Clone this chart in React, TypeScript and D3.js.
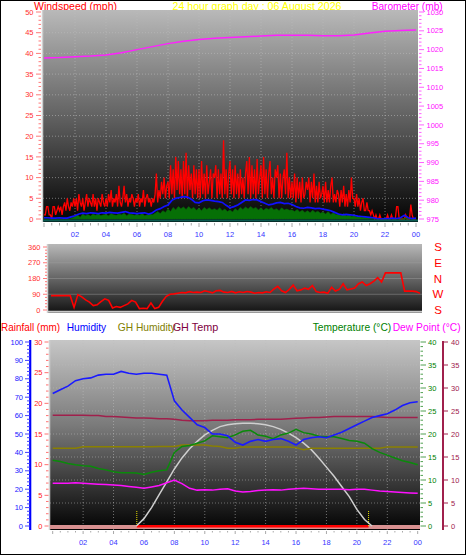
import React from "react";
import * as d3 from "d3";

// ---------- DATA ----------
const hourLabels = ["02", "04", "06", "08", "10", "12", "14", "16", "18", "20", "22", "00"];
const labelHours = [2, 4, 6, 8, 10, 12, 14, 16, 18, 20, 22, 24];

// wind gust (mph), 5-minute samples 00:00..24:00
const gust = [
  1, 1, 3, 3, 1, 1, 0, 3, 3, 1, 2, 3,
  2, 3, 1, 3, 4, 2, 5, 3, 2, 4, 3, 5,
  3, 5, 2, 6, 4, 3, 5, 2, 4, 6, 3, 5,
  4, 3, 6, 3, 5, 2, 5, 4, 3, 6, 4, 3,
  5, 3, 6, 4, 7, 3, 5, 4, 6, 3, 8, 4,
  3, 5, 8, 4, 6, 3, 5, 4, 6, 5, 3, 5,
  4, 6, 3, 5, 4, 7, 3, 5, 6, 4, 5, 3,
  5, 4, 6, 11, 4, 7, 5, 9, 6, 10, 5, 8,
  9, 5, 13, 6, 12, 5, 15, 7, 14, 6, 12, 5,
  14, 6, 16, 5, 13, 7, 11, 5, 13, 6, 12, 5,
  12, 5, 14, 6, 11, 5, 13, 6, 9, 12, 5, 11,
  10, 13, 5, 12, 6, 11, 5, 19, 6, 12, 5, 11,
  14, 6, 12, 5, 13, 6, 11, 5, 12, 6, 10, 5,
  11, 14, 6, 15, 5, 13, 6, 12, 5, 14.5, 6, 10,
  13, 5, 15, 6, 12, 5, 11, 14, 6, 10, 5, 12,
  10, 13, 5, 11, 5, 10, 12, 6, 16, 5, 10, 5,
  9, 5, 11, 4, 10, 5, 9, 4, 10, 5, 6, 9,
  7, 10, 4, 9, 5, 11, 4, 8, 4, 9, 5, 6,
  8, 4, 9, 4, 7, 4, 8, 10, 4, 6, 4, 7,
  6, 3, 7, 4, 8, 3, 6, 3, 7, 4, 10, 5,
  5, 3, 6, 3, 5, 2, 4, 5, 2, 2, 4, 2,
  2, 1, 2, 1, 0, 1, 0, 0, 1, 0, 0, 0,
  0, 0, 1, 0, 0, 1, 0, 0, 0, 3, 3, 0,
  0, 0, 0, 0, 1, 0, 0, 0, 3.5, 1, 0, 0,
  0,
];

// average wind (mph), 15-minute samples
const avgWind = [
  0.3, 0.3, 0.2, 0.2,
  0.3, 0.2, 0.2, 0.5,
  0.8, 1.2, 1.4, 1.3,
  1.5, 1.4, 1.3, 1.5,
  1.4, 1.6, 1.5, 1.4,
  1.6, 1.8, 1.5, 1.4,
  1.3, 1.4, 1.5, 1.2,
  1.5, 2.2, 2.5, 3.0,
  3.4, 4.5, 5.0, 5.2,
  5.4, 5.3, 4.8, 4.0,
  3.9, 4.4, 4.6, 4.5,
  4.3, 4.2, 4.0, 3.3,
  2.7, 3.0, 3.4, 4.0,
  4.6, 4.5, 4.7, 4.6,
  4.2, 3.8, 3.4, 3.6,
  3.9, 4.0, 3.7, 3.8,
  3.5, 3.0, 2.7, 2.6,
  2.8, 2.7, 2.5, 2.6,
  2.4, 2.2, 2.0, 1.6,
  1.2, 1.0, 1.1, 1.0,
  0.9, 0.7, 0.6, 0.5,
  0.4, 0.3, 0.1, 0.0,
  0.1, 0.1, 0.2, 0.1,
  0.3, 0.9, 0.3, 0.1,
  0.2,
];

// wind lull (mph), 10-minute samples
const lull = [
  0, 0, 0, 0, 0, 0,
  0, 0, 0, 0, 0, 0.3,
  0.6, 1.0, 0.4, 1.2, 0.8, 1.1,
  0.7, 1.2, 0.9, 1.3, 0.8, 1.0,
  1.1, 0.8, 1.3, 1.0, 0.9, 1.2,
  1.0, 1.4, 0.8, 1.2, 1.1, 0.9,
  1.1, 0.9, 1.3, 0.8, 1.0, 1.2,
  1.0, 1.4, 1.8, 1.3, 2.0, 1.6,
  2.4, 1.8, 2.8, 2.2, 3.0, 2.5,
  2.9, 2.3, 3.0, 2.4, 2.8, 2.1,
  2.6, 2.0, 2.8, 2.3, 2.7, 2.2,
  2.5, 2.1, 2.7, 2.0, 2.4, 1.8,
  2.2, 1.7, 2.5, 2.0, 2.8, 2.3,
  2.9, 2.4, 3.0, 2.5, 2.8, 2.2,
  2.7, 2.1, 2.6, 2.3, 2.8, 2.2,
  2.5, 2.0, 2.7, 2.2, 2.4, 2.1,
  2.2, 1.8, 2.3, 1.7, 2.1, 1.6,
  2.0, 1.5, 2.1, 1.6, 1.9, 1.4,
  1.7, 1.2, 1.8, 1.1, 1.5, 1.0,
  1.2, 0.8, 1.3, 0.7, 1.0, 0.6,
  0.8, 0.5, 0.7, 0.4, 0.5, 0.3,
  0.2, 0.1, 0, 0, 0, 0,
  0, 0, 0, 0, 0, 0,
  0, 0, 0.3, 0, 0, 0,
  0,
];

// barometer (mb), hourly
const barometer = [
  1017.8, 1017.9, 1018.1, 1018.3, 1018.6, 1019.2, 1020.0, 1020.8, 1021.6, 1022.2,
  1022.7, 1023.0, 1023.2, 1023.4, 1023.6, 1023.8, 1023.8, 1023.8, 1023.7, 1023.7,
  1023.9, 1024.4, 1024.9, 1025.1, 1025.2,
];

// wind direction (deg), 15-minute samples
const direction = [
  82, 82, 82, 82, 82, 82, 15, 88, 75, 58, 45, 25,
  30, 48, 64, 55, 12, 20, 15, 25, 35, 55, 45, 8,
  10, 8, 40, 8, 15, 50, 78, 90, 92, 96, 100, 98,
  105, 100, 102, 100, 110, 104, 98, 110, 112, 102, 100, 106,
  98, 104, 100, 106, 102, 96, 100, 98, 104, 100, 120, 135,
  110, 100, 118, 142, 110, 115, 125, 118, 140, 105, 100, 102,
  95, 130, 108, 118, 150, 115, 120, 125, 150, 160, 140, 150,
  165, 185, 160, 212, 212, 212, 212, 212, 108, 108, 108, 105,
  95,
];
const compass = ["S", "E", "N", "W", "S"];
const compassDeg = [360, 270, 180, 90, 0];

// bottom panel, 30-minute samples
const humidity = [
  72, 74, 76, 79, 80, 80.5, 82, 82.5, 82.5, 84, 83, 82.5, 83, 83, 82.5, 82,
  68, 63, 59, 55, 53.5, 50, 50, 49, 45.5, 44, 46, 47, 46, 47, 47.5, 46,
  44, 47, 48, 48.5, 48, 49.5, 51, 53, 55, 57, 59, 60, 61, 63, 65.5, 67, 67.5,
];
const temperature = [
  14.3, 14.0, 13.6, 13.3, 13.1, 13.0, 12.5, 12.2, 11.8, 11.6, 11.6, 11.5, 11.2, 11.7, 12.0, 12.2,
  16.0, 17.3, 17.5, 18.0, 18.5, 19.6, 19.4, 19.2, 19.8, 20.6, 20.8, 19.8, 19.5, 19.0, 19.8, 20.2,
  21.0, 20.3, 20.0, 19.5, 19.4, 19.4, 19.0, 18.6, 18.4, 18.0, 16.8, 16.0, 15.4, 14.8, 14.2, 13.8, 13.3,
];
const dewPoint = [
  9.3, 9.3, 9.3, 9.4, 9.3, 9.2, 9.1, 9.0, 8.9, 8.8, 8.6, 8.4, 8.2, 8.5, 8.8, 9.4,
  10.0, 9.2, 8.2, 7.8, 7.9, 7.8, 8.0, 8.1, 7.6, 7.4, 7.5, 7.7, 7.8, 7.9, 7.8, 8.0,
  8.1, 8.2, 8.1, 8.0, 8.0, 8.0, 8.0, 7.9, 8.0, 8.0, 7.8, 7.6, 7.5, 7.4, 7.3, 7.2, 7.1,
];
const ghTemp = [
  24.1, 24.1, 24.1, 24.1, 24.1, 24.0, 24.0, 23.8, 23.8, 23.7, 23.6, 23.5, 23.5, 23.4, 23.3, 23.3,
  23.2, 23.0, 22.9, 22.9, 22.9, 23.0, 23.0, 23.0, 23.1, 23.1, 23.1, 23.2, 23.2, 23.2, 23.2, 23.3,
  23.4, 23.5, 23.6, 23.6, 23.7, 23.8, 23.8, 23.8, 23.8, 23.8, 23.8, 23.7, 23.6, 23.6, 23.6, 23.6, 23.6,
];
const ghHumidity = [
  42.2, 42.2, 42.2, 42.3, 43.1, 43.1, 43.1, 43.1, 43.1, 43.1, 43.1, 43.1, 43.1, 43.1, 43.2, 43.2,
  43.2, 44.0, 44.0, 44.0, 44.0, 43.5, 43.2, 42.2, 42.2, 43.0, 43.0, 43.0, 43.0, 43.0, 43.0, 43.0,
  42.6, 41.4, 42.2, 42.2, 42.2, 42.2, 42.2, 42.2, 42.2, 42.2, 42.2, 42.2, 43.0, 43.0, 43.0, 43.0, 43.0,
];
// solar curve (on 0-100 scale), null when sun is down
const solar = [
  null, null, null, null, null, null, null, null, null, null, null, 0,
  4, 10, 17, 24, 31, 37, 42, 46, 49.5, 52, 54, 55, 55.6, 55.8, 55.8, 55.6, 55, 54, 52.5, 50.5,
  48, 45, 41.5, 37, 32, 27, 21.5, 16, 9, 3.5, 0, null, null, null, null, null, null,
];
const sunrise = 5.53;
const sunset = 20.77;

// ---------- HELPERS ----------
type P = { h: number; v: number | null };
const toSeries = (vals: (number | null)[]): P[] =>
  vals.map((v, i) => ({ h: (i * 24) / (vals.length - 1), v }));

const FONT = "'Liberation Sans', Arial, sans-serif";

export default function App() {
  // top panel scales
  const xTop = d3.scaleLinear().domain([0, 24]).range([44, 416]);
  const yWind = d3.scaleLinear().domain([0, 50]).range([219, 12]);
  const yBaro = d3.scaleLinear().domain([975, 1030]).range([219, 12]);
  // middle
  const xMid = d3.scaleLinear().domain([0, 24]).range([51, 420]);
  const yDir = d3.scaleLinear().domain([0, 360]).range([310, 247]);
  // bottom
  const xBot = d3.scaleLinear().domain([0, 24]).range([52.7, 417.7]);
  const yHum = d3.scaleLinear().domain([0, 100]).range([526, 342]);
  const yRain = d3.scaleLinear().domain([0, 30]).range([526, 342]);
  const yTemp = d3.scaleLinear().domain([0, 40]).range([526, 342]);

  const lineTop = (ys: d3.ScaleLinear<number, number>) =>
    d3.line<P>().x((d) => xTop(d.h)).y((d) => ys(d.v as number));
  const lineBot = (ys: d3.ScaleLinear<number, number>) =>
    d3.line<P>().defined((d) => d.v !== null).x((d) => xBot(d.h)).y((d) => ys(d.v as number));

  const lullArea = d3
    .area<P>()
    .x((d) => xTop(d.h))
    .y0(yWind(0))
    .y1((d) => yWind(d.v as number));
  const dirLine = d3.line<P>().x((d) => xMid(d.h)).y((d) => yDir(d.v as number));

  const tickHalfHours = d3.range(0, 48.5, 1).map((k) => k / 2);

  return (
    <svg
      width={466}
      height={555}
      style={{ position: "absolute", left: 0, top: 0, fontFamily: FONT }}
    >
      <defs>
        <linearGradient id="gTop" x1="0" y1="0" x2="0" y2="1">
          <stop offset="0%" stopColor="#b9b9b9" />
          <stop offset="50%" stopColor="#626262" />
          <stop offset="100%" stopColor="#030303" />
        </linearGradient>
        <linearGradient id="gMid" x1="0" y1="0" x2="0" y2="1">
          <stop offset="0%" stopColor="#b8b8b8" />
          <stop offset="100%" stopColor="#121212" />
        </linearGradient>
        <linearGradient id="gBot" x1="0" y1="0" x2="0" y2="1">
          <stop offset="0%" stopColor="#c6c6c6" />
          <stop offset="45%" stopColor="#7a7a7a" />
          <stop offset="100%" stopColor="#020202" />
        </linearGradient>
      </defs>
      <rect x={0.5} y={0.5} width={465} height={554} fill="#ffffff" stroke="#000" />

      {/* ===== TOP PANEL ===== */}
      <text x={34} y={9.5} fontSize={11} fill="#ff0000" textLength={83} lengthAdjust="spacingAndGlyphs">
        Windspeed (mph)
      </text>
      <text x={172.5} y={9.5} fontSize={11} fill="#ffff00" textLength={169} lengthAdjust="spacingAndGlyphs">
        24 hour graph day : 06 August 2026
      </text>
      <text x={371.7} y={9.5} fontSize={11} fill="#ff00ff" textLength={71} lengthAdjust="spacingAndGlyphs">
        Barometer (mb)
      </text>

      <rect x={43} y={10} width={375} height={212} fill="url(#gTop)" />
      <line x1={42.5} x2={42.5} y1={10} y2={222} stroke="#d0d0d0" strokeWidth={1.5} />
      {labelHours.slice(0, 11).map((h) => (
        <line key={"tvg" + h} x1={xTop(h)} x2={xTop(h)} y1={10} y2={222} stroke="#bdbdbd" strokeOpacity={0.55} strokeDasharray="1,2" />
      ))}
      {d3.range(5, 50, 5).map((v) => (
        <line key={"thg" + v} x1={43} x2={418} y1={yWind(v)} y2={yWind(v)} stroke="#bdbdbd" strokeOpacity={0.55} strokeDasharray="1,2" />
      ))}
      <path d={lineTop(yBaro)(toSeries(barometer)) as string} fill="none" stroke="#ff20ff" strokeWidth={1.5} />
      <path d={lineTop(yWind)(toSeries(gust)) as string} fill="none" stroke="#ff0000" strokeWidth={1.3} />
      <path d={lullArea(toSeries(lull)) as string} fill="#067006" stroke="#066806" strokeWidth={0.6} />
      <path d={lineTop(yWind)(toSeries(avgWind)) as string} fill="none" stroke="#1010ff" strokeWidth={1.7} />
      <line x1={43} x2={418} y1={220.5} y2={220.5} stroke="#0b5a50" strokeWidth={2} />

      {/* top left axis */}
      {d3.range(0, 51, 1).map((v) => (
        <line key={"tl" + v} x1={v % 5 === 0 ? 36 : 38.5} x2={41} y1={yWind(v)} y2={yWind(v)} stroke="#ff7878" strokeWidth={1} />
      ))}
      {d3.range(0, 51, 5).map((v) => (
        <text key={"tlt" + v} x={33.5} y={yWind(v)} dy="0.35em" fontSize={7.5} fill="#ff3030" textAnchor="end">
          {v}
        </text>
      ))}
      {/* top right axis */}
      {d3.range(975, 1031, 1).map((v) => (
        <line key={"tr" + v} x1={419} x2={v % 5 === 0 ? 424 : 421.5} y1={yBaro(v)} y2={yBaro(v)} stroke="#ff60ff" strokeWidth={1} />
      ))}
      {d3.range(975, 1031, 5).map((v) => (
        <text key={"trt" + v} x={426.5} y={yBaro(v)} dy="0.35em" fontSize={7.5} fill="#ff10ff" textAnchor="start">
          {v}
        </text>
      ))}
      {/* top x axis */}
      {tickHalfHours.map((h) => (
        <line key={"tx" + h} x1={xTop(h)} x2={xTop(h)} y1={223} y2={Number.isInteger(h) && h % 2 === 0 ? 227 : 225.5} stroke="#a8a8a8" />
      ))}
      {labelHours.map((h, i) => (
        <text key={"txl" + h} x={xTop(h)} y={237} fontSize={7.5} fill="#3535ff" textAnchor="middle">
          {hourLabels[i]}
        </text>
      ))}

      {/* ===== MIDDLE PANEL ===== */}
      <rect x={48} y={244} width={374} height={69} fill="url(#gMid)" />
      <line x1={47.5} x2={47.5} y1={244} y2={313} stroke="#d0d0d0" strokeWidth={1.5} />
      {[90, 180, 270].map((v) => (
        <line key={"mg" + v} x1={48} x2={422} y1={yDir(v)} y2={yDir(v)} stroke="#a0a0a0" strokeOpacity={0.45} />
      ))}
      <line x1={48} x2={422} y1={311.8} y2={311.8} stroke="#c8c8c8" strokeWidth={2} />
      <path d={dirLine(toSeries(direction)) as string} fill="none" stroke="#ff0000" strokeWidth={1.6} />
      {d3.range(0, 361, 18).map((v) => (
        <line key={"ml" + v} x1={v % 90 === 0 ? 43 : 45} x2={47} y1={yDir(v)} y2={yDir(v)} stroke="#ff7878" />
      ))}
      {[0, 90, 180, 270, 360].map((v) => (
        <text key={"mlt" + v} x={40.5} y={yDir(v)} dy="0.35em" fontSize={7.5} fill="#ff3030" textAnchor="end">
          {v}
        </text>
      ))}
      {compass.map((c, i) => (
        <text key={"cp" + i} x={438} y={yDir(compassDeg[i])} dy="0.36em" fontSize={11.5} fill="#ff0000" textAnchor="middle">
          {c}
        </text>
      ))}

      {/* ===== BOTTOM PANEL ===== */}
      <text x={1} y={331} fontSize={11} fill="#ff0000" textLength={59} lengthAdjust="spacingAndGlyphs">Rainfall (mm)</text>
      <text x={66.7} y={331} fontSize={11} fill="#0000ff" textLength={39.5} lengthAdjust="spacingAndGlyphs">Humidity</text>
      <text x={117.7} y={331} fontSize={11} fill="#808000" textLength={58} lengthAdjust="spacingAndGlyphs">GH Humidity</text>
      <text x={172.7} y={331} fontSize={11} fill="#800040" textLength={45.5} lengthAdjust="spacingAndGlyphs">GH Temp</text>
      <text x={312.7} y={331} fontSize={11} fill="#008000" textLength={78.5} lengthAdjust="spacingAndGlyphs">Temperature (°C)</text>
      <text x={392.7} y={331} fontSize={11} fill="#ff00ff" textLength={68} lengthAdjust="spacingAndGlyphs">Dew Point (°C)</text>

      <rect x={50} y={340} width={370} height={190} fill="url(#gBot)" />
      <line x1={49.5} x2={49.5} y1={340} y2={530} stroke="#d0d0d0" strokeWidth={1.5} />
      {labelHours.slice(0, 11).map((h) => (
        <line key={"bvg" + h} x1={xBot(h)} x2={xBot(h)} y1={340} y2={530} stroke="#bdbdbd" strokeOpacity={0.55} strokeDasharray="1,2" />
      ))}
      {d3.range(5, 40, 5).map((v) => (
        <line key={"bhg" + v} x1={50} x2={420} y1={yTemp(v)} y2={yTemp(v)} stroke="#bdbdbd" strokeOpacity={0.5} strokeDasharray="1,2" />
      ))}
      <rect x={50} y={525} width={370} height={4} fill="#d89090" />
      <line x1={xBot(sunrise)} x2={xBot(sunset)} y1={526.3} y2={526.3} stroke="#ff0000" strokeWidth={2.6} />
      {[sunrise, sunset].map((h) => (
        <line key={"sun" + h} x1={xBot(h)} x2={xBot(h)} y1={511} y2={527} stroke="#e8e000" strokeDasharray="1,1" />
      ))}
      <path d={lineBot(yHum)(toSeries(solar)) as string} fill="none" stroke="#cfcfcf" strokeWidth={1.5} />
      <path d={lineBot(yTemp)(toSeries(ghTemp)) as string} fill="none" stroke="#a0204c" strokeWidth={1.5} />
      <path d={lineBot(yHum)(toSeries(ghHumidity)) as string} fill="none" stroke="#8a8000" strokeWidth={1.5} />
      <path d={lineBot(yTemp)(toSeries(temperature)) as string} fill="none" stroke="#0a8a0a" strokeWidth={1.5} />
      <path d={lineBot(yTemp)(toSeries(dewPoint)) as string} fill="none" stroke="#ff10ff" strokeWidth={1.5} />
      <path d={lineBot(yHum)(toSeries(humidity)) as string} fill="none" stroke="#1a1aff" strokeWidth={1.6} />

      {/* humidity axis */}
      <line x1={30.2} x2={30.2} y1={340} y2={530} stroke="#0000ff" strokeWidth={2.2} />
      {d3.range(0, 101, 2).map((v) => (
        <line key={"hu" + v} x1={v % 10 === 0 ? 25 : 27} x2={30} y1={yHum(v)} y2={yHum(v)} stroke="#4040ff" />
      ))}
      {d3.range(0, 101, 10).map((v) => (
        <text key={"hut" + v} x={23} y={yHum(v)} dy="0.35em" fontSize={7.5} fill="#2020ff" textAnchor="end">
          {v}
        </text>
      ))}
      {/* rain axis */}
      {d3.range(0, 31, 1).map((v) => (
        <line key={"ra" + v} x1={v % 5 === 0 ? 44.5 : 46} x2={48.5} y1={yRain(v)} y2={yRain(v)} stroke="#ff7070" />
      ))}
      {d3.range(0, 31, 5).map((v) => (
        <text key={"rat" + v} x={42.5} y={yRain(v)} dy="0.35em" fontSize={7.5} fill="#ff2020" textAnchor="end">
          {v}
        </text>
      ))}
      {/* temperature axis */}
      {d3.range(0, 41, 1).map((v) => (
        <line key={"te" + v} x1={420.5} x2={v % 5 === 0 ? 426 : 423} y1={yTemp(v)} y2={yTemp(v)} stroke="#50a050" />
      ))}
      {d3.range(0, 41, 5).map((v) => (
        <text key={"tet" + v} x={428} y={yTemp(v)} dy="0.35em" fontSize={7.5} fill="#008000" textAnchor="start">
          {v}
        </text>
      ))}
      {/* dew point axis */}
      <line x1={443} x2={443} y1={341} y2={530} stroke="#a0204c" strokeWidth={2} />
      {d3.range(0, 41, 5).map((v) => (
        <line key={"dp" + v} x1={444} x2={448} y1={yTemp(v)} y2={yTemp(v)} stroke="#a0204c" />
      ))}
      {d3.range(0, 41, 5).map((v) => (
        <text key={"dpt" + v} x={451} y={yTemp(v)} dy="0.35em" fontSize={7.5} fill="#a0204c" textAnchor="start">
          {v}
        </text>
      ))}
      {/* bottom x axis */}
      {tickHalfHours.map((h) => (
        <line key={"bx" + h} x1={xBot(h)} x2={xBot(h)} y1={531} y2={Number.isInteger(h) && h % 2 === 0 ? 534 : 532.5} stroke="#a8a8a8" />
      ))}
      {labelHours.map((h, i) => (
        <text key={"bxl" + h} x={xBot(h)} y={544.5} fontSize={7.5} fill="#3535ff" textAnchor="middle">
          {hourLabels[i]}
        </text>
      ))}
    </svg>
  );
}
